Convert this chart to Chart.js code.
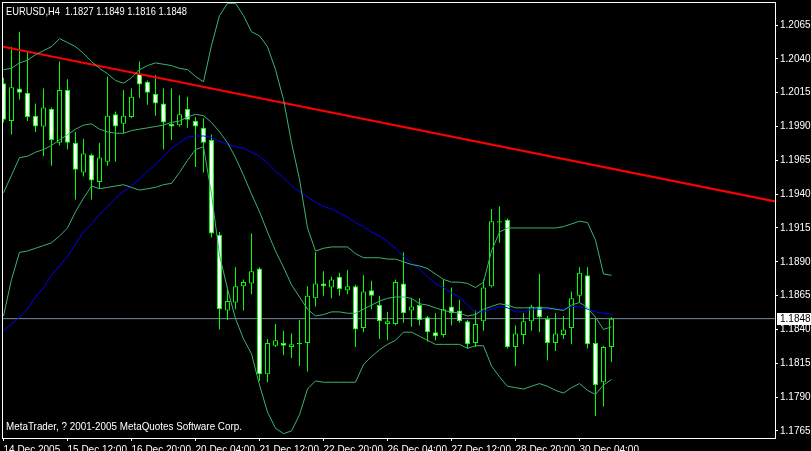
<!DOCTYPE html>
<html><head><meta charset="utf-8">
<script src="https://cdn.jsdelivr.net/npm/chart.js@4"></script>
<style>html,body{margin:0;padding:0;background:#000;overflow:hidden}#wrap{position:relative;width:811px;height:451px}canvas{display:block}</style>
</head><body><div id="wrap"><canvas id="c" width="811" height="451"></canvas></div>
<script>
const symbolTitle = "EURUSD,H4  1.1827 1.1849 1.1816 1.1848";
const copyright = "MetaTrader, ? 2001-2005 MetaQuotes Software Corp.";
const currentPrice = 1.1848;

const opens = [1.2022,1.1994,1.2018,1.2015,1.1998,1.1990,1.2003,1.1978,1.2017,1.1978,
1.1956,1.1969,1.1949,1.1964,1.1999,1.1992,1.1997,1.2029,1.2023,1.2014,
1.2007,1.1992,1.1991,1.2003,1.1994,1.1989,1.1980,1.1910,1.1854,1.1860,
1.1872,1.1874,1.1885,1.1807,1.1828,1.1830,1.1827,1.1830,1.1830,1.1863,
1.1874,1.1871,1.1879,1.1869,1.1872,1.1841,1.1869,1.1858,1.1844,1.1844,
1.1874,1.1854,1.1858,1.1849,1.1838,1.1836,1.1857,1.1854,1.1846,1.1830,
1.1846,1.1872,1.1920,1.1921,1.1827,1.1836,1.1846,1.1857,1.1848,1.1830,
1.1836,1.1841,1.1865,1.1880,1.1830,1.1801,1.1827];
const highs = [1.2026,1.2049,1.2060,1.2045,1.2007,1.2018,1.2004,1.2038,1.2025,1.1986,
1.1981,1.1970,1.1978,1.2027,1.2001,1.2017,1.2018,1.2038,1.2024,1.2028,
1.2018,1.2018,1.2013,1.2012,1.1997,1.1996,1.1984,1.1912,1.1871,1.1886,
1.1877,1.1911,1.1886,1.1833,1.1844,1.1839,1.1837,1.1847,1.1872,1.1897,
1.1883,1.1879,1.1882,1.1884,1.1873,1.1880,1.1876,1.1865,1.1853,1.1877,
1.1897,1.1863,1.1863,1.1850,1.1852,1.1877,1.1871,1.1862,1.1847,1.1854,
1.1877,1.1929,1.1931,1.1922,1.1843,1.1852,1.1858,1.1881,1.1850,1.1852,
1.1850,1.1868,1.1886,1.1886,1.1848,1.1828,1.1849];
const lows = [1.1993,1.1984,1.2010,1.1994,1.1986,1.1968,1.1961,1.1976,1.1973,1.1936,
1.1953,1.1936,1.1944,1.1961,1.1964,1.1985,1.1996,1.2011,1.2006,1.1998,
1.1973,1.1980,1.1990,1.1989,1.1960,1.1956,1.1908,1.1840,1.1847,1.1855,
1.1854,1.1866,1.1802,1.1801,1.1827,1.1821,1.1819,1.1813,1.1809,1.1857,
1.1865,1.1863,1.1865,1.1866,1.1827,1.1838,1.1855,1.1833,1.1832,1.1843,
1.1845,1.1842,1.1843,1.1831,1.1832,1.1834,1.1843,1.1845,1.1826,1.1827,
1.1839,1.1871,1.1904,1.1826,1.1813,1.1829,1.1839,1.1838,1.1817,1.1824,
1.1833,1.1829,1.1860,1.1826,1.1776,1.1783,1.1816];
const closes = [1.1995,1.2019,1.2015,1.1997,1.1990,1.2004,1.1980,1.2017,1.1978,1.1958,
1.1970,1.1950,1.1967,1.1998,1.1990,1.1998,1.2012,1.2021,1.2015,1.2007,
1.1993,1.1990,1.1999,1.1995,1.1990,1.1978,1.1911,1.1855,1.1861,1.1872,
1.1875,1.1883,1.1807,1.1830,1.1832,1.1828,1.1829,1.1829,1.1865,1.1874,
1.1872,1.1877,1.1870,1.1872,1.1840,1.1868,1.1865,1.1846,1.1846,1.1875,
1.1852,1.1857,1.1847,1.1838,1.1835,1.1855,1.1852,1.1846,1.1829,1.1844,
1.1871,1.1920,1.1919,1.1827,1.1837,1.1846,1.1857,1.1849,1.1830,1.1837,
1.1840,1.1863,1.1882,1.1829,1.1799,1.1827,1.1848];

const bbUpper = [1.2032,1.2033,1.2037,1.2039,1.2043,1.2046,1.2049,1.2055,1.2052,1.2049,
1.2044,1.2038,1.2033,1.2029,1.2024,1.2022,1.2026,1.2032,1.2035,1.2037,
1.2036,1.2035,1.2033,1.2032,1.2027,1.2023,1.2050,1.2072,1.2081,1.2081,
1.2072,1.2060,1.2057,1.2049,1.2032,1.2010,1.1978,1.1951,1.1915,1.1898,
1.1900,1.1901,1.1901,1.1901,1.1896,1.1893,1.1893,1.1893,1.1892,1.1892,
1.1890,1.1888,1.1887,1.1885,1.1881,1.1877,1.1875,1.1875,1.1874,1.1871,
1.1875,1.1898,1.1912,1.1915,1.1915,1.1915,1.1915,1.1915,1.1915,1.1915,
1.1916,1.1918,1.1920,1.1919,1.1906,1.1881,1.1880];
const bbMiddle = [1.1941,1.1954,1.1967,1.1968,1.1971,1.1973,1.1976,1.1980,1.1984,1.1988,
1.1991,1.1992,1.1988,1.1986,1.1985,1.1985,1.1987,1.1988,1.1989,1.1990,
1.1991,1.1993,1.1994,1.1997,1.1999,1.1998,1.1993,1.1986,1.1978,1.1967,
1.1954,1.1940,1.1927,1.1912,1.1898,1.1886,1.1873,1.1864,1.1855,1.1850,
1.1851,1.1853,1.1853,1.1852,1.1852,1.1855,1.1858,1.1861,1.1863,1.1864,
1.1864,1.1863,1.1859,1.1858,1.1856,1.1854,1.1853,1.1852,1.1850,1.1851,
1.1855,1.1857,1.1859,1.1858,1.1856,1.1856,1.1856,1.1856,1.1856,1.1855,
1.1854,1.1858,1.1860,1.1856,1.1849,1.1840,1.1842];
const bbLower = [1.1850,1.1877,1.1897,1.1898,1.1900,1.1902,1.1904,1.1909,1.1915,1.1927,
1.1937,1.1946,1.1944,1.1945,1.1946,1.1947,1.1945,1.1943,1.1944,1.1945,
1.1947,1.1948,1.1956,1.1965,1.1973,1.1975,1.1940,1.1895,1.1870,1.1848,
1.1833,1.1822,1.1799,1.1779,1.1767,1.1763,1.1765,1.1777,1.1796,1.1802,
1.1801,1.1801,1.1801,1.1801,1.1801,1.1814,1.1820,1.1825,1.1829,1.1832,
1.1838,1.1838,1.1835,1.1832,1.1829,1.1829,1.1829,1.1829,1.1826,1.1828,
1.1828,1.1813,1.1805,1.1798,1.1797,1.1796,1.1798,1.1800,1.1798,1.1795,
1.1793,1.1797,1.1800,1.1795,1.1792,1.1799,1.1803];
const movingAverage = [1.1839,1.1844,1.1849,1.1855,1.1864,1.1871,1.1880,1.1887,1.1894,1.1903,
1.1912,1.1918,1.1925,1.1931,1.1937,1.1942,1.1946,1.1951,1.1957,1.1962,
1.1968,1.1974,1.1978,1.1982,1.1983,1.1983,1.1982,1.1979,1.1977,1.1975,
1.1974,1.1971,1.1968,1.1963,1.1957,1.1952,1.1946,1.1942,1.1938,1.1934,
1.1931,1.1929,1.1926,1.1923,1.1919,1.1916,1.1912,1.1909,1.1905,1.1900,
1.1894,1.1889,1.1885,1.1879,1.1874,1.1871,1.1867,1.1864,1.1858,1.1853,
1.1853,1.1855,1.1857,1.1856,1.1853,1.1853,1.1855,1.1855,1.1855,1.1855,
1.1855,1.1857,1.1857,1.1855,1.1853,1.1852,1.1851];

const trendBars = [-1, 97];
const trendPrices = [1.2050, 1.1934];

const xTickBars = [0, 8, 16, 24, 32, 40, 48, 56, 64, 72];
const xTickLabels = ["14 Dec 2005","15 Dec 12:00","16 Dec 20:00","20 Dec 04:00","21 Dec 12:00",
"22 Dec 20:00","26 Dec 04:00","27 Dec 12:00","28 Dec 20:00","30 Dec 04:00"];
const yTickValues = [1.1765,1.1790,1.1815,1.1840,1.1865,1.1890,1.1915,1.1940,1.1965,1.1990,1.2015,1.2040,1.2065];

const FONT = "'Liberation Sans',Arial,sans-serif";
const LIME = '#00ff00';
const BAND = '#3cb371';

const pts = arr => arr.map((v, i) => ({x: i, y: v}));
const bodyData = opens.map((o, i) => ({x: i, y: [o, closes[i]]}));
const wickData = lows.map((l, i) => ({x: i, y: [l, highs[i]]}));

function drawNarrow(c, text, x, y, targetW) {
  const w = c.measureText(text).width;
  const k = Math.min(1, targetW / w);
  c.save(); c.translate(x, y); c.scale(k, 1); c.fillText(text, 0, 0); c.restore();
}

const decor = {
  id: 'decor',
  beforeDraw(chart) {
    const c = chart.ctx;
    c.save(); c.fillStyle = '#000'; c.fillRect(0, 0, chart.width, chart.height); c.restore();
  },
  afterDraw(chart) {
    const c = chart.ctx, a = chart.chartArea, y = chart.scales.y;
    c.save();
    c.strokeStyle = '#fff'; c.lineWidth = 1;
    c.strokeRect(a.left + 0.5, a.top + 0.5, a.right - a.left, a.bottom - a.top);
    c.font = '11px ' + FONT;
    c.fillStyle = '#fff'; c.textBaseline = 'alphabetic'; c.textAlign = 'left';
    drawNarrow(c, symbolTitle, 6, 15, 181);
    drawNarrow(c, copyright, 6, 430, 236);
    const py = Math.round(y.getPixelForValue(currentPrice));
    c.fillStyle = '#fff';
    c.fillRect(777, py - 6, 34, 12);
    c.fillStyle = '#000'; c.textBaseline = 'middle';
    c.font = '10px ' + FONT;
    c.fillText(currentPrice.toFixed(4), 780, py + 0.5);
    c.restore();
  }
};

new Chart(document.getElementById('c'), {
  type: 'bar',
  data: {
    datasets: [
      {type: 'line', data: pts(bbUpper), borderColor: BAND, borderWidth: 1, pointRadius: 0, order: 0},
      {type: 'line', data: pts(bbMiddle), borderColor: BAND, borderWidth: 1, pointRadius: 0, order: 0},
      {type: 'line', data: pts(bbLower), borderColor: BAND, borderWidth: 1, pointRadius: 0, order: 0},
      {type: 'line', data: pts(movingAverage), borderColor: '#0000ff', borderWidth: 1, pointRadius: 0, order: 0},
      {type: 'line', data: trendBars.map((b, i) => ({x: b, y: trendPrices[i]})), borderColor: '#ff0000', borderWidth: 2, pointRadius: 0, order: 0},
      {type: 'bar', data: bodyData, barThickness: 5, grouped: false, borderWidth: 1, borderSkipped: false, inflateAmount: 0,
        borderColor: LIME,
        backgroundColor: ctx => (closes[ctx.dataIndex] >= opens[ctx.dataIndex] ? '#000' : '#fff'), order: 1},
      {type: 'bar', data: wickData, barThickness: 1, grouped: false, borderWidth: 0, inflateAmount: 0, backgroundColor: LIME, order: 2},
      {type: 'line', data: [{x: -1, y: currentPrice}, {x: 97, y: currentPrice}], borderColor: '#778899', borderWidth: 1, pointRadius: 0, order: 3}
    ]
  },
  options: {
    responsive: false, animation: false, events: [],
    layout: {padding: {left: 2, top: 2, right: 0, bottom: 0}},
    plugins: {legend: {display: false}, tooltip: {enabled: false}},
    scales: {
      x: {
        type: 'linear', position: 'bottom', min: -0.1875, max: 96.4375, offset: false,
        afterBuildTicks: s => { s.ticks = xTickBars.map(v => ({value: v})); },
        afterFit: s => { s.height = 13; s.paddingLeft = 0; s.paddingRight = 0; },
        grid: {offset: false, drawOnChartArea: false, drawTicks: true, tickLength: 3, tickColor: '#fff', color: '#fff'},
        border: {display: true, color: '#fff', width: 1},
        ticks: {autoSkip: false, maxRotation: 0, minRotation: 0, align: 'start', padding: 3, color: '#fff',
          font: {family: FONT, size: 10}, callback: (v, i) => xTickLabels[i]}
      },
      y: {
        type: 'linear', position: 'right', min: 1.17598, max: 1.2082,
        afterBuildTicks: s => { s.ticks = yTickValues.map(v => ({value: v})); },
        afterFit: s => { s.width = 36; s.paddingTop = 0; s.paddingBottom = 0; },
        grid: {drawOnChartArea: false, drawTicks: true, tickLength: 3, tickColor: '#fff', color: '#fff'},
        border: {display: true, color: '#fff', width: 1},
        ticks: {padding: 2, color: '#fff', font: {family: FONT, size: 10}, callback: v => v.toFixed(4)}
      }
    }
  },
  plugins: [decor]
});
</script></body></html>
